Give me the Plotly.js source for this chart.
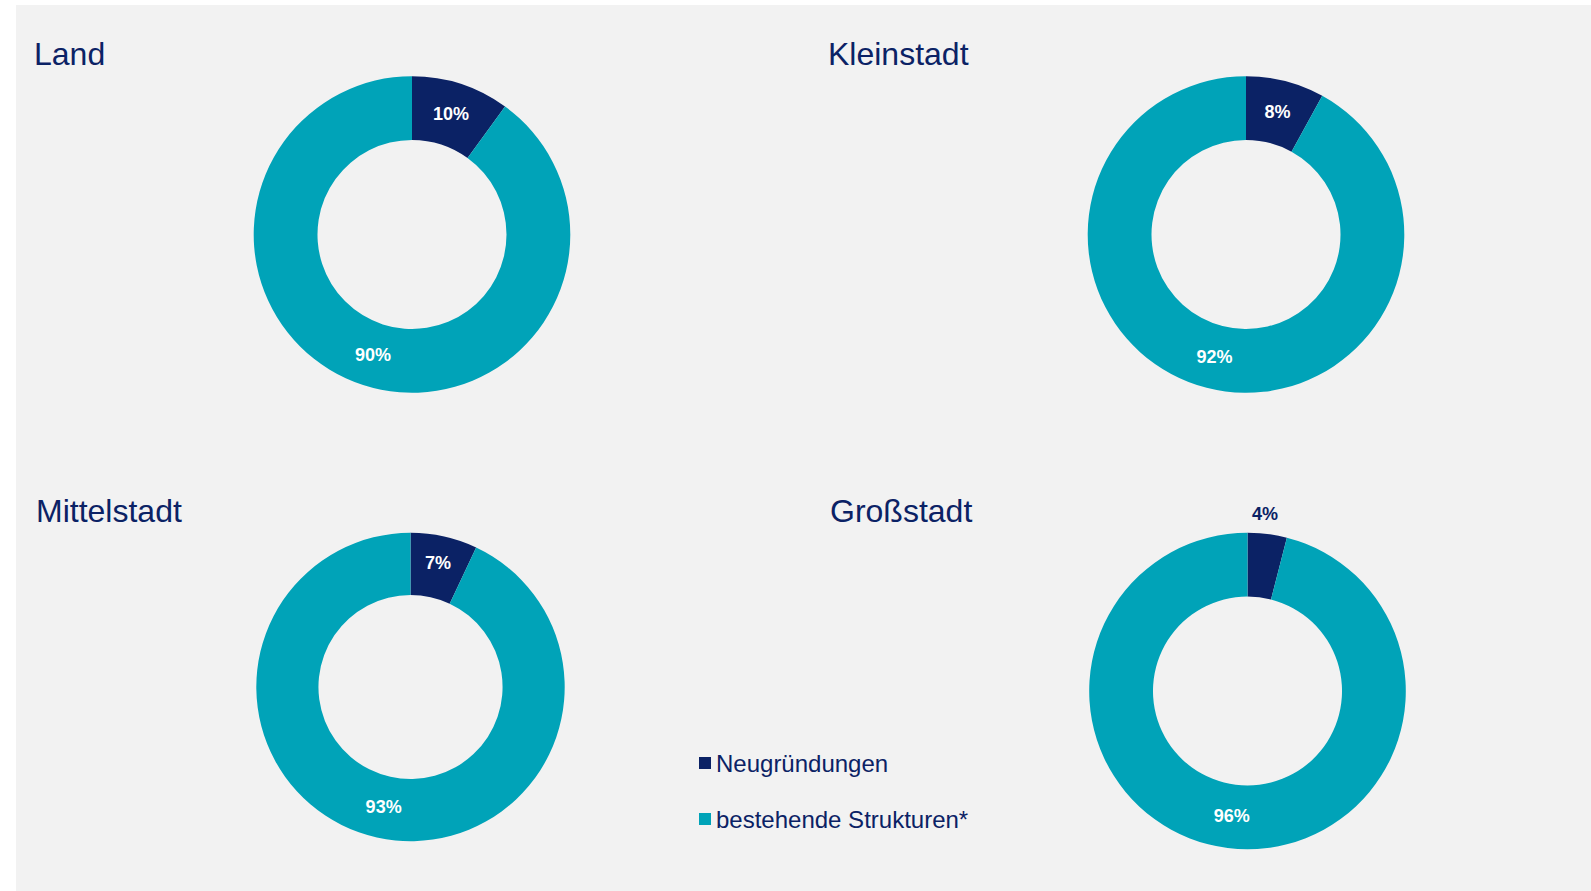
<!DOCTYPE html>
<html>
<head>
<meta charset="utf-8">
<script src="https://cdn.plot.ly/plotly-3.0.1.min.js"></script>
<style>
  html, body { margin: 0; padding: 0; background: #ffffff; width: 1591px; height: 891px; overflow: hidden; }
  #chart { position: absolute; left: 16px; top: 5px; width: 1575px; height: 886px; }
</style>
</head>
<body>
<div id="chart"></div>
<script>
// ---- data ----
const labels = ["Neugründungen", "bestehende Strukturen*"];
const colors = ["#0B2265", "#00A3B8"];
const panels = ["Land", "Kleinstadt", "Mittelstadt", "Großstadt"];
const landValues = [10, 90];
const kleinstadtValues = [8, 92];
const mittelstadtValues = [7, 93];
const grossstadtValues = [4, 96];

// ---- layout helpers (pixel positions inside the grey panel) ----
const W = 1575, H = 886, OX = 16, OY = 5;
const navy = "#0B2265";
const fontFamily = "Arial, 'Liberation Sans', sans-serif";

function dom(cx, cy, r) {
  const x = cx - OX, y = cy - OY;
  return {
    x: [(x - r) / W, (x + r) / W],
    y: [(H - y - r) / H, (H - y + r) / H]
  };
}

const geom = [
  {c: [412, 234.5], r: 158.3, vals: landValues, pos: ["inside", "inside"]},
  {c: [1246, 234.5], r: 158.3, vals: kleinstadtValues, pos: ["inside", "inside"]},
  {c: [410.5, 687], r: 154.2, vals: mittelstadtValues, pos: ["inside", "inside"]},
  {c: [1247.5, 691], r: 158.3, vals: grossstadtValues, pos: ["none", "inside"]}
];

const data = geom.map((g, i) => ({
  type: "pie",
  name: panels[i],
  labels: labels,
  values: g.vals,
  hole: 0.597,
  sort: false,
  direction: "clockwise",
  rotation: 0,
  domain: dom(g.c[0], g.c[1], g.r),
  marker: {colors: colors, line: {width: 0}},
  texttemplate: "%{value}%",
  textposition: g.pos,
  insidetextorientation: "horizontal",
  insidetextfont: {family: fontFamily, size: 18, color: "#ffffff", weight: "bold"},
  showlegend: false,
  hoverinfo: "label+percent"
}));

const titlePos = [[32, 54], [826, 54], [33.5, 511], [828, 511]];
const annotations = panels.map((t, i) => ({
  text: t,
  xref: "paper", yref: "paper",
  x: (titlePos[i][0] - OX) / W,
  y: (H - (titlePos[i][1] - OY)) / H,
  xanchor: "left", yanchor: "middle",
  showarrow: false,
  font: {family: fontFamily, size: 32, color: navy}
}));

// small slice label of Großstadt placed outside, above its slice (derived from the value)
(function () {
  const g = geom[3];
  const v = g.vals[0];
  const total = g.vals.reduce((a, b) => a + b, 0);
  const ang = (v / total) * Math.PI * 0.8; // slightly left of the slice middle, as in the reference
  const dist = g.r + 20;
  const px = g.c[0] + dist * Math.sin(ang) - OX;
  const py = g.c[1] - dist * Math.cos(ang) - OY;
  annotations.push({
    text: v + "%",
    xref: "paper", yref: "paper",
    x: px / W, y: (H - py) / H,
    xanchor: "center", yanchor: "middle",
    showarrow: false,
    font: {family: fontFamily, size: 18, color: navy, weight: "bold"}
  });
})();

// legend (drawn manually to reproduce row spacing)
const legendRows = [763, 819];
const legendX = 705;
const shapes = [];
labels.forEach((lab, i) => {
  const cx = legendX - OX, cy = legendRows[i] - OY;
  shapes.push({
    type: "rect", xref: "paper", yref: "paper",
    x0: (cx - 6) / W, x1: (cx + 6) / W,
    y0: (H - cy - 6) / H, y1: (H - cy + 6) / H,
    fillcolor: colors[i], line: {width: 0}
  });
  annotations.push({
    text: lab,
    xref: "paper", yref: "paper",
    x: (714 - OX) / W, y: (H - cy) / H,
    xanchor: "left", yanchor: "middle",
    showarrow: false,
    font: {family: fontFamily, size: 24, color: navy}
  });
});

const layout = {
  width: W, height: H,
  margin: {l: 0, r: 0, t: 0, b: 0},
  paper_bgcolor: "#F2F2F2",
  plot_bgcolor: "#F2F2F2",
  showlegend: false,
  annotations: annotations,
  shapes: shapes,
  font: {family: fontFamily, color: navy}
};

Plotly.newPlot("chart", data, layout, {displayModeBar: false, staticPlot: true});
</script>
</body>
</html>
